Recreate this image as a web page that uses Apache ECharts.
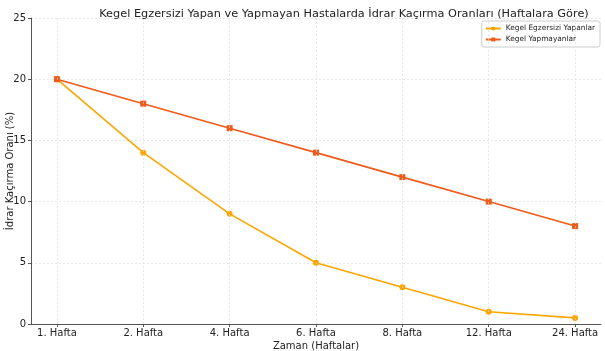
<!DOCTYPE html>
<html>
<head>
<meta charset="utf-8">
<script src="https://cdn.jsdelivr.net/npm/echarts@6/dist/echarts.min.js"></script>
<style>
  html, body { margin: 0; padding: 0; background: #fff; }
  #chart { width: 605px; height: 351px; }
</style>
</head>
<body>
<div id="chart"></div>
<script>
// haftalar (x ekseni)
const weeks = ['1. Hafta', '2. Hafta', '4. Hafta', '6. Hafta', '8. Hafta', '12. Hafta', '24. Hafta'];
// idrar kaçırma oranları (%)
const kegelYapanlar = [20, 14, 9, 5, 3, 1, 0.5];
const kegelYapmayanlar = [20, 18, 16, 14, 12, 10, 8];

const font = 'DejaVu Sans';
const idx = weeks.map((w, i) => i);

const chart = echarts.init(document.getElementById('chart'));
chart.setOption({
  animation: false,
  textStyle: { fontFamily: font },
  title: {
    text: 'Kegel Egzersizi Yapan ve Yapmayan Hastalarda İdrar Kaçırma Oranları (Haftalara Göre)',
    left: 339,
    textAlign: 'center',
    top: 4,
    textStyle: { fontSize: 11.3, fontWeight: 'normal', color: '#222', fontFamily: font }
  },
  legend: {
    right: 5,
    top: 21,
    orient: 'vertical',
    itemWidth: 15,
    itemHeight: 5,
    itemGap: 4,
    padding: [4, 5, 4, 3],
    borderColor: '#ccc',
    borderWidth: 1,
    borderRadius: 2,
    textStyle: { fontSize: 7.4, color: '#222', fontFamily: font },
    data: ['Kegel Egzersizi Yapanlar', 'Kegel Yapmayanlar']
  },
  grid: { left: 31, right: 4, top: 18, bottom: 27, containLabel: false, outerBoundsMode: 'none' },
  xAxis: {
    type: 'value',
    min: -0.3,
    max: 6.3,
    name: 'Zaman (Haftalar)',
    nameLocation: 'middle',
    nameGap: 17,
    nameMoveOverlap: false,
    nameTextStyle: { fontSize: 10, color: '#222' },
    axisLine: { show: true, onZero: false, lineStyle: { color: '#555', width: 1 } },
    axisTick: { show: true, customValues: idx, length: 3, lineStyle: { color: '#555' } },
    axisLabel: {
      customValues: idx,
      fontSize: 10,
      color: '#222',
      margin: 4,
      formatter: v => weeks[Math.round(v)]
    },
    splitLine: { show: false }
  },
  yAxis: {
    type: 'value',
    min: 0,
    max: 25,
    interval: 5,
    name: 'İdrar Kaçırma Oranı (%)',
    nameLocation: 'middle',
    nameGap: 16,
    nameMoveOverlap: false,
    nameTextStyle: { fontSize: 10, color: '#222' },
    axisLine: { show: true, onZero: false, lineStyle: { color: '#555', width: 1 } },
    axisTick: { show: true, length: 3, lineStyle: { color: '#555' } },
    axisLabel: { fontSize: 10, color: '#222', margin: 5 },
    splitLine: { show: true, lineStyle: { color: '#ddd', type: [2, 2], width: 0.7 } }
  },
  series: [
    {
      name: 'Kegel Egzersizi Yapanlar',
      type: 'line',
      data: kegelYapanlar.map((v, i) => [i, v]),
      color: '#FFA500',
      lineStyle: { width: 1.6 },
      symbol: 'circle',
      symbolSize: 6,
      z: 3
    },
    {
      name: 'Kegel Yapmayanlar',
      type: 'line',
      data: kegelYapmayanlar.map((v, i) => [i, v]),
      color: '#F05A1A',
      lineStyle: { width: 1.6 },
      symbol: 'rect',
      symbolSize: 6,
      z: 4
    },
    {
      // dikey ızgara çizgileri
      type: 'line',
      data: [],
      silent: true,
      markLine: {
        silent: true,
        symbol: 'none',
        label: { show: false },
        lineStyle: { color: '#ddd', type: [2, 2], width: 0.7 },
        data: idx.map(i => ({ xAxis: i }))
      },
      z: 1
    }
  ]
});
</script>
</body>
</html>
